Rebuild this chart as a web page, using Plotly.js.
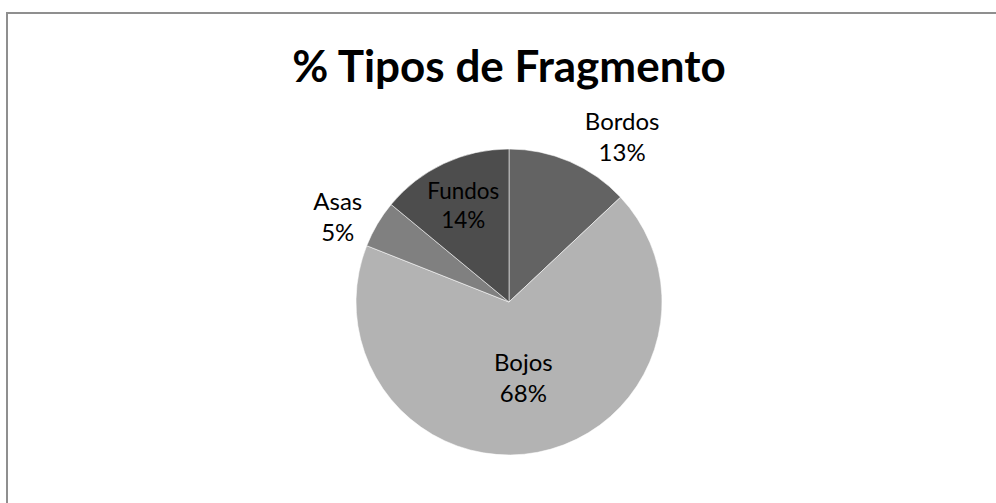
<!DOCTYPE html>
<html>
<head>
<meta charset="utf-8">
<script src="https://cdn.plot.ly/plotly-3.0.1.min.js"></script>
<style>
  html, body { margin: 0; padding: 0; background: #ffffff; }
  #frame { position: absolute; left: 6px; top: 12px; width: 990px; height: 491px;
           border-left: 2px solid #8f8f8f; border-top: 2px solid #8f8f8f; box-sizing: border-box; }
  #chart { position: absolute; left: 0; top: 0; width: 996px; height: 503px; }
</style>
</head>
<body>
<div id="frame"></div>
<div id="chart"></div>
<script>
const categories = ["Bordos", "Bojos", "Asas", "Fundos"];
const values = [13, 68, 5, 14];
const colors = ["#636363", "#b3b3b3", "#808080", "#4d4d4d"];
const textPositions = ["outside", "inside", "outside", "inside"];
const titleText = "% Tipos de Fragmento";

const W = 996, H = 503;
const cx = 509, cy = 302, r = 153;
const FONT = "Lato, 'Liberation Sans', sans-serif";

const trace = {
  type: "pie",
  labels: categories,
  values: values,
  sort: false,
  direction: "clockwise",
  rotation: 0,
  marker: { colors: colors, line: { color: "rgba(255,255,255,0.55)", width: 1 } },
  texttemplate: "%{label}<br>%{percent:.0%}",
  textposition: textPositions,
  insidetextorientation: "horizontal",
  textfont: { family: FONT, size: 24, color: "#000000" },
  insidetextfont: { family: FONT, size: 24, color: "#000000" },
  outsidetextfont: { family: FONT, size: 24, color: "#000000" },
  showlegend: false,
  hoverinfo: "label+percent",
  domain: {
    x: [(cx - r) / W, (cx + r) / W],
    y: [(H - (cy + r)) / H, (H - (cy - r)) / H]
  }
};

const layout = {
  width: W, height: H,
  margin: { l: 0, r: 0, t: 0, b: 0 },
  paper_bgcolor: "rgba(0,0,0,0)",
  plot_bgcolor: "rgba(0,0,0,0)",
  title: {
    text: "<b>" + titleText + "</b>",
    x: 509 / W, xanchor: "center",
    y: 1 - 67 / H, yanchor: "middle",
    yref: "container", xref: "container",
    font: { family: FONT, size: 44, color: "#000000" }
  },
  showlegend: false
};

Plotly.newPlot("chart", [trace], layout, { displayModeBar: false, staticPlot: true });
</script>
</body>
</html>
